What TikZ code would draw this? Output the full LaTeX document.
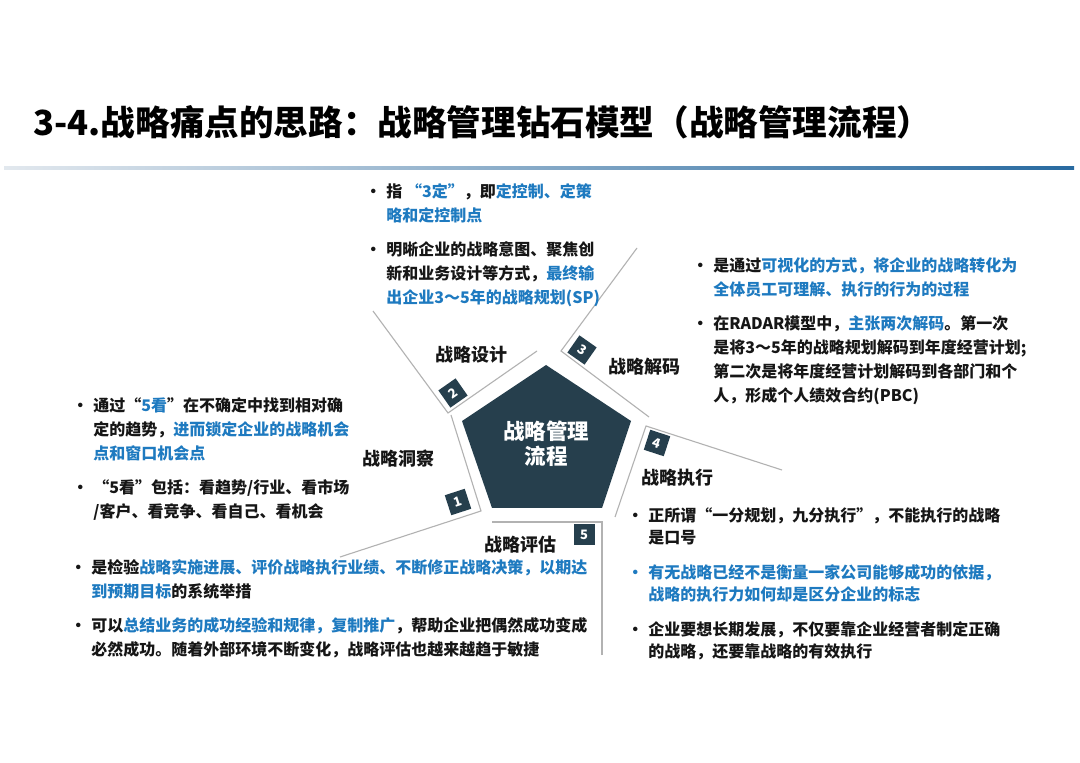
\documentclass[tikz,border=0pt]{standalone}
\usepackage{fontspec}
\setmainfont{Noto Sans CJK SC}
\usepackage{xcolor}
\usepackage{tikz}

\definecolor{pentcol}{RGB}{38,63,77}
\definecolor{keyblue}{RGB}{30,122,192}
\definecolor{rulegray}{RGB}{178,178,178}
\definecolor{inkblack}{RGB}{22,22,22}
\definecolor{ruleblue}{RGB}{40,106,160}
\definecolor{rulepale}{RGB}{226,232,238}

\newcommand{\kw}[1]{\textcolor{keyblue}{#1}}
\newcommand{\bul}{\llap{\makebox[7pt]{•}\hspace{3pt}}}

\begin{document}
\begin{tikzpicture}[x=0.5pt,y=-0.5pt,
  core/.style={fill=pentcol},
  corelbl/.style={text=white,font=\fontsize{10.75}{12.5}\selectfont\bfseries,
                  align=center,inner sep=0pt},
  badge/.style={fill=pentcol,text=white,minimum size=10.5pt,inner sep=0pt,
                font=\fontsize{6.5}{7}\selectfont\bfseries},
  stage/.style={font=\fontsize{9}{10}\selectfont\bfseries,text=inkblack,inner sep=0pt},
  desc/.style={font=\fontsize{8}{12}\selectfont\bfseries,text=inkblack,
               align=left,anchor=base west,inner sep=0pt},
  sector/.style={draw=rulegray,line width=0.55pt}]

  \fill[white] (0,0) rectangle (1080,763);
  \path[use as bounding box] (0,0) rectangle (1080,763);

  % title and rule
  \node[anchor=base west,inner sep=0pt,font=\fontsize{17.3}{20}\selectfont\bfseries]
       (title) at (33,136) {3-4.战略痛点的思路：战略管理钻石模型（战略管理流程）};
  \shade[left color=rulepale,right color=ruleblue] (4,166.5) rectangle (1074,170);

  % pentagon
  \coordinate (pT) at (546,365);
  \coordinate (pR) at (631,421);
  \coordinate (pBR) at (602,508);
  \coordinate (pBL) at (492,508);
  \coordinate (pL) at (462,421);
  \fill[core] (pT) -- (pR) -- (pBR) -- (pBL) -- (pL) -- cycle;
  \node[corelbl] (core) at (546,444) {战略管理\\流程};

  % sector outlines
  \coordinate (r1) at (340,557); \coordinate (c1) at (481,511); \coordinate (e1) at (451,415);
  \coordinate (r2) at (373,311); \coordinate (c2) at (448,413); \coordinate (e2) at (537,351);
  \coordinate (r3) at (637,248); \coordinate (c3) at (561,351); \coordinate (e3) at (649,417);
  \coordinate (r4) at (782,470); \coordinate (c4) at (646,426); \coordinate (e4) at (615,517);
  \coordinate (r5) at (602,655); \coordinate (c5) at (602,522); \coordinate (e5) at (492,522);
  \draw[sector] (r1) -- (c1) -- (e1);
  \draw[sector] (r2) -- (c2) -- (e2);
  \draw[sector] (r3) -- (c3) -- (e3);
  \draw[sector] (r4) -- (c4) -- (e4);
  \draw[sector] (r5) -- (c5) -- (e5);

  % number badges
  \node[badge,rotate=18] (b1) at (458,502) {1};
  \node[badge,rotate=35] (b2) at (453,393) {2};
  \node[badge,rotate=-35] (b3) at (582,350) {3};
  \node[badge,rotate=-18] (b4) at (657,443) {4};
  \node[badge] (b5) at (584,535) {5};

  % stage names
  \node[stage] (s1) at (398,459) {战略洞察};
  \node[stage] (s2) at (471,355) {战略设计};
  \node[stage] (s3) at (644,367) {战略解码};
  \node[stage] (s4) at (677,478) {战略执行};
  \node[stage] (s5) at (520,545) {战略评估};

  % descriptions (anchored on the last line)
  \node[desc] (d1) at (93,518)
       {\bul 通过“\kw{5看}”在不确定中找到相对确\\
        定的趋势，\kw{进而锁定企业的战略机会}\\
        \kw{点和窗口机会点}\\[5pt]
        \bul “5看”包括：看趋势/行业、看市场\\
        /客户、看竞争、看自己、看机会};
  \node[desc] (d2) at (386,304)
       {\bul 指 \kw{“3定”}，即\kw{定控制、定策}\\
        \kw{略和定控制点}\\[5pt]
        \bul 明晰企业的战略意图、聚焦创\\
        新和业务设计等方式，\kw{最终输}\\
        \kw{出企业3～5年的战略规划(SP)}};
  \node[desc] (d3) at (713,402)
       {\bul 是通过\kw{可视化的方式，将企业的战略转化为}\\
        \kw{全体员工可理解、执行的行为的过程}\\[5pt]
        \bul 在RADAR模型中，\kw{主张两次解码}。第一次\\
        是将3～5年的战略规划解码到年度经营计划;\\
        第二次是将年度经营计划解码到各部门和个\\
        人，形成个人绩效合约(PBC)};
  \node[desc,font=\fontsize{8}{11}\selectfont\bfseries] (d4) at (648,657)
       {\bul 正所谓“一分规划，九分执行”，不能执行的战略\\
        是口号\\[6.5pt]
        \kw{\bul 有无战略已经不是衡量一家公司能够成功的依据，}\\
        \kw{战略的执行力如何却是区分企业的标志}\\[6.5pt]
        \bul 企业要想长期发展，不仅要靠企业经营者制定正确\\
        的战略，还要靠战略的有效执行};
  \node[desc] (d5) at (91,655)
       {\bul 是检验\kw{战略实施进展、评价战略执行业绩、不断修正战略决策，以期达}\\
        \kw{到预期目标}的系统举措\\[5pt]
        \bul 可以\kw{总结业务的成功经验和规律，复制推广}，帮助企业把偶然成功变成\\
        必然成功。随着外部环境不断变化，战略评估也越来越趋于敏捷};
\end{tikzpicture}
\end{document}
